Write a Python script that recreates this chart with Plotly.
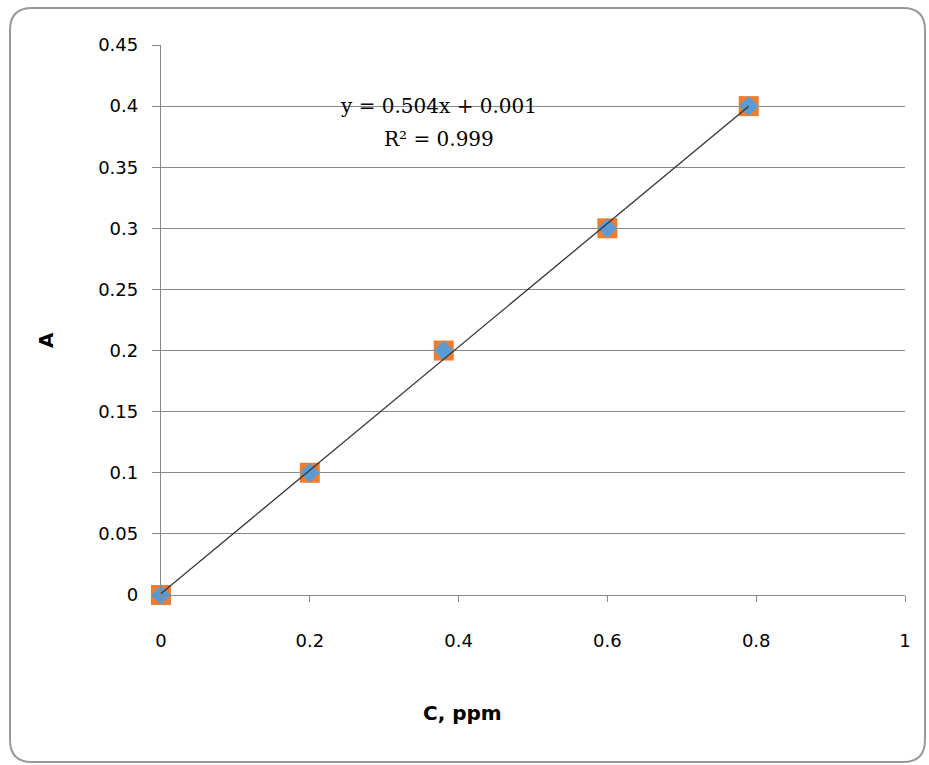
import numpy as np
import plotly.graph_objects as go

conc = [0, 0.2, 0.38, 0.6, 0.79]
absorb = [0, 0.1, 0.2, 0.3, 0.4]
x_ticks = [0, 0.2, 0.4, 0.6, 0.8, 1]
x_labels = ["0", "0.2", "0.4", "0.6", "0.8", "1"]
y_ticks = [0, 0.05, 0.1, 0.15, 0.2, 0.25, 0.3, 0.35, 0.4, 0.45]
y_labels = ["0", "0.05", "0.1", "0.15", "0.2", "0.25", "0.3", "0.35", "0.4", "0.45"]
eq_text = "y = 0.504x + 0.001"
r2_text = "R² = 0.999"

slope, intercept = np.polyfit(conc, absorb, 1)

W, H = 929, 765
fig = go.Figure()
fig.add_trace(go.Scatter(x=conc, y=absorb, mode="markers",
                         marker=dict(symbol="square", size=20, color="#ED7D31"),
                         showlegend=False, cliponaxis=False))
fig.add_trace(go.Scatter(x=conc, y=absorb, mode="markers",
                         marker=dict(symbol="diamond", size=15, color="#5B9BD5"),
                         showlegend=False, cliponaxis=False))
tx = [min(conc), max(conc)]
fig.add_trace(go.Scatter(x=tx, y=[slope * v + intercept for v in tx], mode="lines",
                         line=dict(color="#333333", width=1.3), showlegend=False,
                         cliponaxis=False))

font_ticks = dict(family="DejaVu Sans, sans-serif", size=18, color="#000000")
r = 22
L, R, T, B = 10, 925, 8, 762
frame = (f"M {(L+r)/W},{1-T/H} L {(R-r)/W},{1-T/H} Q {R/W},{1-T/H} {R/W},{1-(T+r)/H} "
         f"L {R/W},{1-(B-r)/H} Q {R/W},{1-B/H} {(R-r)/W},{1-B/H} "
         f"L {(L+r)/W},{1-B/H} Q {L/W},{1-B/H} {L/W},{1-(B-r)/H} "
         f"L {L/W},{1-(T+r)/H} Q {L/W},{1-T/H} {(L+r)/W},{1-T/H} Z")
fig.update_layout(
    width=W, height=H, margin=dict(l=0, r=0, t=0, b=0, autoexpand=False),
    paper_bgcolor="white", plot_bgcolor="white",
    xaxis=dict(domain=[161 / W, 905 / W], range=[0, 1], tickvals=x_ticks, ticktext=x_labels,
               showgrid=False, zeroline=False, showline=True, linecolor="#888888", linewidth=1.3,
               ticks="outside", ticklen=6, tickcolor="#888888", tickfont=font_ticks,
               ticklabelstandoff=23),
    yaxis=dict(domain=[1 - 595 / H, 1 - 45 / H], range=[0, 0.45], tickvals=y_ticks, ticktext=y_labels,
               showgrid=True, gridcolor="#888888", gridwidth=1.3, zeroline=False,
               showline=True, linecolor="#888888", linewidth=1.3,
               ticks="outside", ticklen=8, tickcolor="#888888", tickfont=font_ticks,
               ticklabelstandoff=10),
    shapes=[dict(type="path", xref="paper", yref="paper", path=frame,
                 line=dict(color="#999999", width=2))],
    annotations=[
        dict(text=eq_text, xref="paper", yref="paper",
             x=438 / W, y=1 - 92 / H, showarrow=False,
             font=dict(family="DejaVu Serif, serif", size=20, color="#000000")),
        dict(text=r2_text, xref="paper", yref="paper",
             x=439 / W, y=1 - 125 / H, showarrow=False,
             font=dict(family="DejaVu Serif, serif", size=20, color="#000000")),
        dict(text="<b>A</b>", xref="paper", yref="paper", x=32 / W, y=1 - 340 / H, showarrow=False,
             textangle=-90, font=dict(family="DejaVu Sans, sans-serif", size=20, color="#000000")),
        dict(text="<b>C, ppm</b>", xref="paper", yref="paper", x=462 / W, y=1 - 727 / H, showarrow=False,
             font=dict(family="DejaVu Sans, sans-serif", size=20, color="#000000")),
    ],
)
fig.write_html("out.html", config={"displayModeBar": False},
               post_script="document.body.style.margin='0';document.body.style.overflow='hidden';")
